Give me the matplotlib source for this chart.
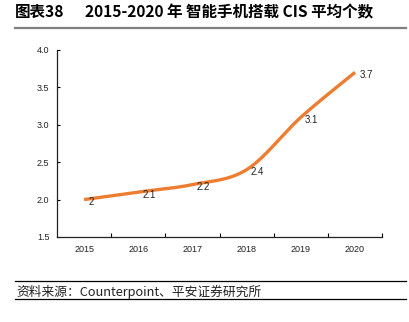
import numpy as np
import matplotlib
matplotlib.use('Agg')
from matplotlib import pyplot as plt
from matplotlib.lines import Line2D

plt.rcParams['font.family'] = ['Noto Sans CJK SC', 'DejaVu Sans']

years = ['2015', '2016', '2017', '2018', '2019', '2020']
cis_avg = [2.0, 2.1, 2.2, 2.4, 3.1, 3.7]
value_labels = ['2', '2.1', '2.2', '2.4', '3.1', '3.7']
yticks = [1.5, 2.0, 2.5, 3.0, 3.5, 4.0]

orange = '#ED7D31'
narrow = ['Liberation Sans Narrow', 'Liberation Sans', 'DejaVu Sans']


def smooth(x, y, steps=30):
	# Catmull-Rom style smoothing, like a spreadsheet "smoothed line"
	x = np.asarray(x, float)
	y = np.asarray(y, float)
	px = np.concatenate([[x[0]], x, [x[-1]]])
	py = np.concatenate([[y[0]], y, [y[-1]]])
	xs, ys = [], []
	t = np.linspace(0, 1, steps)
	for i in range(1, len(px) - 2):
		p0, p1, p2, p3 = [np.array([px[j], py[j]]) for j in range(i - 1, i + 3)]
		c1 = p1 + (p2 - p0) / 6
		c2 = p2 - (p3 - p1) / 6
		pts = ((1 - t) ** 3)[:, None] * p1 + (3 * (1 - t) ** 2 * t)[:, None] * c1 \
			+ (3 * (1 - t) * t ** 2)[:, None] * c2 + (t ** 3)[:, None] * p2
		xs.extend(pts[:, 0])
		ys.extend(pts[:, 1])
	return np.array(xs), np.array(ys)


fig = plt.figure(figsize=(4.1, 3.22), dpi=100)
ax = fig.add_axes([0.139, 0.264, 0.793, 0.581])

xpos = np.arange(len(years))
sx, sy = smooth(xpos, cis_avg)
ax.plot(sx, sy, color=orange, lw=2.4, solid_capstyle='butt')

for x, v, s in zip(xpos, cis_avg, value_labels):
	ax.annotate(s, (x, v), xytext=(3, -2), textcoords='offset points',
				ha='left', va='center', fontsize=7, family=narrow, color='#222222')

ax.set_xlim(-0.5, len(years) - 0.5)
ax.set_ylim(1.5, 4.0)
ax.set_yticks(yticks)
ax.set_yticklabels(['%.1f' % v for v in yticks], family=narrow, fontsize=6.5, color='#222222')
ax.set_xticks(xpos + 0.5, minor=False)
ax.set_xticklabels([])
ax.set_xticks(xpos, minor=True)
ax.set_xticklabels(years, minor=True, family=narrow, fontsize=6.5, color='#222222')
ax.tick_params(axis='x', which='major', direction='in', length=3, width=0.8)
ax.tick_params(axis='x', which='minor', length=0, pad=6)
ax.tick_params(axis='y', direction='in', length=2.5, width=0.8, pad=5.5)
for side in ['top', 'right']:
	ax.spines[side].set_visible(False)
for side in ['left', 'bottom']:
	ax.spines[side].set_linewidth(0.9)
	ax.spines[side].set_color('#222222')

# header and footer
fig.text(0.037, 0.962, '图表38', fontsize=11.2, fontweight='bold', va='center')
fig.text(0.207, 0.962, '2015-2020 年 智能手机搭载 CIS 平均个数', fontsize=11.2,
		 fontweight='bold', va='center')
fig.add_artist(Line2D([0.037, 0.99], [0.913, 0.913], color='#7f7f7f', lw=1.6))
fig.add_artist(Line2D([0.037, 0.99], [0.127, 0.127], color='black', lw=0.9))
fig.text(0.04, 0.094, '资料来源：Counterpoint、平安证券研究所', fontsize=9.2, va='center',
		 color='#222222')
fig.add_artist(Line2D([0.037, 0.99], [0.071, 0.071], color='black', lw=0.9))

plt.savefig('out.png', dpi=100)
